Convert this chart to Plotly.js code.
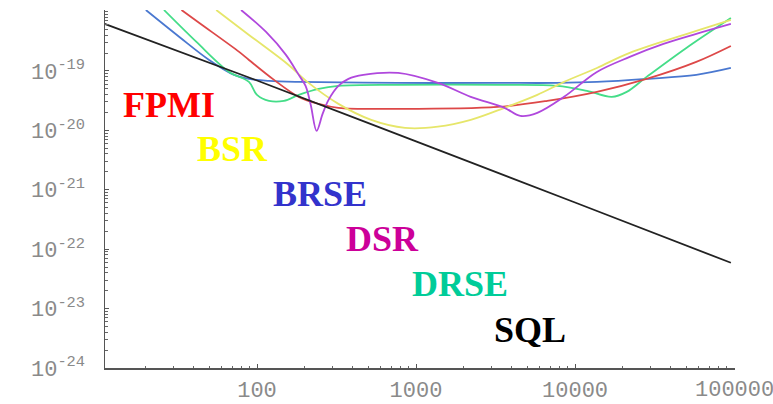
<!DOCTYPE html>
<html>
<head>
<meta charset="utf-8">
<script src="https://cdn.plot.ly/plotly-3.0.1.min.js"></script>
<style>
  html, body { margin: 0; padding: 0; background: #fff; }
  #plot { width: 773px; height: 404px; }
</style>
</head>
<body>
<div id="plot"></div>
<script>
// Strain sensitivity (1/sqrt(Hz)) versus frequency (Hz) for several interferometer configurations.

// FPMI
const fpmiFreq = [33.5, 43.4, 77.2, 89, 128, 183, 244, 325, 772, 3254, 6683, 13725, 28180, 57880, 95500];
const fpmiH    = [1.06e-18, 6.4e-19, 2.09e-19, 1.53e-19, 7.06e-20, 3.66e-20, 2.79e-20, 2.39e-20, 2.3e-20, 2.48e-20, 3.13e-20, 4.44e-20, 7.34e-20, 1.42e-19, 2.63e-19];

// BSR
const bsrFreq = [55.4, 89, 158, 211, 325, 523, 853, 1373, 2208, 3597, 5790, 8530, 13725, 22080, 57880, 95500];
const bsrH    = [1.06e-18, 4.03e-19, 1.26e-19, 6.28e-20, 2.79e-20, 1.5e-20, 1.1e-20, 1.15e-20, 1.5e-20, 2.39e-20, 3.95e-20, 6.53e-20, 1.12e-19, 2.01e-19, 4.7e-19, 7.2e-19];

// BRSE
const brseFreq = [20, 32.5, 50, 71.8, 89, 119, 183, 772, 3254, 7720, 13725, 28180, 57880, 95500];
const brseH    = [1.06e-18, 3.73e-19, 1.53e-19, 8.57e-20, 7.34e-20, 6.79e-20, 6.53e-20, 6.28e-20, 6.28e-20, 6.28e-20, 6.53e-20, 7.34e-20, 8.57e-20, 1.12e-19];

// DSR
const dsrFreq = [79.4, 114, 152, 183, 202, 217.6, 237, 258.5, 281.8, 325, 375.8, 466.6, 772, 1373, 2208, 3597, 4529, 5790, 8530, 13725, 22080, 35970, 57880, 95500];
const dsrH    = [1.06e-18, 4.52e-19, 1.86e-19, 8.57e-20, 5.6e-20, 2.69e-20, 9.8e-21, 1.89e-20, 3.26e-20, 5.6e-20, 7.34e-20, 8.57e-20, 9.25e-20, 6.28e-20, 3.66e-20, 2.39e-20, 1.75e-20, 1.97e-20, 3.66e-20, 9.6e-20, 1.72e-19, 2.84e-19, 4.19e-19, 6.16e-19];

// DRSE
const drseFreq = [26, 41.6, 66.8, 89, 100, 119, 147.5, 183, 244, 325, 772, 3254, 7720, 11885, 17030, 21135, 28180, 50120, 95500];
const drseH    = [1.06e-18, 3.07e-19, 9.6e-20, 6.53e-20, 3.95e-20, 3.13e-20, 3.13e-20, 3.95e-20, 4.98e-20, 5.6e-20, 5.82e-20, 5.82e-20, 5.6e-20, 4.61e-20, 3.66e-20, 4.44e-20, 7.93e-20, 2.44e-19, 7.78e-19];

// Standard quantum limit
const sqlFreq = [11, 100, 1000, 10000, 95500];
const sqlH    = [6.2e-19, 6.9e-20, 6.5e-21, 6.1e-22, 5.9e-23];

// Axis ticks
const xTickVals  = [100, 1000, 10000, 100000];
const xTickText  = ['100', '1000', '10000', '100000'];
const yTickVals  = [1e-24, 1e-23, 1e-22, 1e-21, 1e-20, 1e-19];
const yTickText  = ['10<sup>-24</sup>', '10<sup>-23</sup>', '10<sup>-22</sup>', '10<sup>-21</sup>', '10<sup>-20</sup>', '10<sup>-19</sup>'];

// Curve labels
const labelNames  = ['FPMI', 'BSR', 'BRSE', 'DSR', 'DRSE', 'SQL'];
const labelColors = ['#ff0000', '#ffff00', '#3333cc', '#cc0099', '#00cc99', '#000000'];

function curve(x, y, color) {
  return {
    x: x, y: y, type: 'scatter', mode: 'lines',
    line: { color: color, width: 1.8, shape: 'spline', smoothing: 1 },
    hoverinfo: 'skip', showlegend: false
  };
}

const traces = [
  curve(brseFreq, brseH, '#4a78d0'),
  curve(drseFreq, drseH, '#44dd88'),
  curve(fpmiFreq, fpmiH, '#dd4848'),
  curve(bsrFreq, bsrH, '#e6e66a'),
  curve(dsrFreq, dsrH, '#b048dd'),
  curve(sqlFreq, sqlH, '#222222')
];

const labelPos = [
  [0.101, 0.735], [0.2016, 0.612], [0.341, 0.487],
  [0.440, 0.361], [0.5635, 0.235], [0.675, 0.107]
];

const annotations = labelNames.map((name, i) => ({
  text: '<b>' + name + '</b>',
  xref: 'paper', yref: 'paper',
  x: labelPos[i][0], y: labelPos[i][1],
  xanchor: 'center', yanchor: 'middle',
  showarrow: false,
  font: { family: 'Liberation Serif, Times New Roman, serif', size: 36, color: labelColors[i] }
}));

const tickFont = { family: 'Liberation Mono, Courier New, monospace', size: 22, color: '#8a8a8a' };

// The last x tick sits on the right end of the axis; its label runs past the
// figure edge, so it is drawn as an annotation rather than an axis label.
const lastX = xTickVals.length - 1;
const xAxisText = xTickText.map((t, i) => (i === lastX ? '' : t));
annotations.push({
  text: xTickText[lastX],
  xref: 'x', yref: 'paper',
  x: Math.log10(xTickVals[lastX]), y: -0.062,
  xanchor: 'center', yanchor: 'middle',
  showarrow: false,
  font: tickFont
});

const layout = {
  width: 773, height: 404,
  margin: { l: 105, r: 38, t: 10, b: 36 },
  paper_bgcolor: '#ffffff', plot_bgcolor: '#ffffff',
  showlegend: false,
  xaxis: {
    type: 'log', range: [1.044, 5.006],
    showgrid: false, zeroline: false,
    showline: true, linecolor: '#555555', linewidth: 1.5,
    tickmode: 'array', tickvals: xTickVals, ticktext: xAxisText,
    ticks: 'inside', ticklen: 4, tickcolor: '#555555', tickwidth: 1,
    minor: { ticks: 'inside', ticklen: 2.5, tickcolor: '#666666', dtick: 'D1', showgrid: false },
    tickfont: tickFont, ticklabelstandoff: 1
  },
  yaxis: {
    type: 'log', range: [-24, -17.975],
    showgrid: false, zeroline: false,
    showline: true, linecolor: '#555555', linewidth: 1.5,
    tickmode: 'array', tickvals: yTickVals, ticktext: yTickText,
    ticks: 'inside', ticklen: 4, tickcolor: '#555555', tickwidth: 1,
    minor: { ticks: 'inside', ticklen: 2.5, tickcolor: '#666666', dtick: 'D1', showgrid: false },
    tickfont: tickFont, ticklabelstandoff: 14
  },
  annotations: annotations
};

Plotly.newPlot('plot', traces, layout, { staticPlot: true, displayModeBar: false });
</script>
</body>
</html>
